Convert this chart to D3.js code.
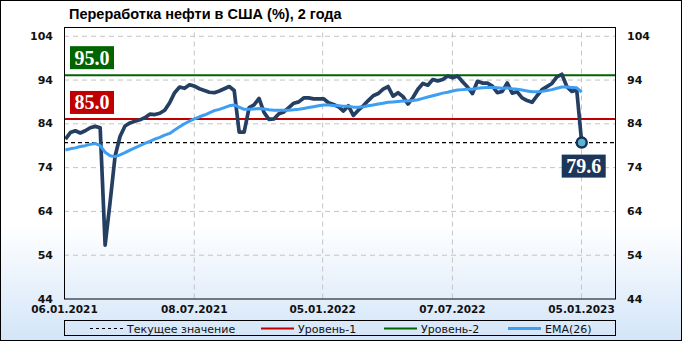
<!DOCTYPE html>
<html>
<head>
<meta charset="utf-8">
<script src="https://cdn.jsdelivr.net/npm/d3@7"></script>
<style>
    body { margin: 0; }
    svg { display: block; }
</style>
</head>
<body>
<div id="chart"></div>
<script>
// Weekly refinery utilization, first week ends 08.01.2021
const startDate = new Date(2021, 0, 8);

const refining = [
    80.4, 81.9, 82.3, 81.8, 82.3, 83.0, 83.3, 83.0, 56.2, 66.0,
    76.5, 81.0, 83.4, 84.1, 84.5, 84.8, 85.3, 86.1, 86.0, 86.3,
    87.0, 88.7, 91.0, 92.3, 92.0, 92.8, 92.5, 91.9, 91.5, 91.1,
    91.0, 91.4, 91.9, 92.4, 91.5, 82.0, 82.0, 87.6, 88.2, 89.7,
    86.5, 84.9, 85.0, 86.2, 86.6, 87.6, 88.6, 88.9, 89.8, 89.8,
    89.6, 89.6, 89.6, 88.7, 88.3, 87.8, 86.8, 88.0, 85.8, 87.0,
    88.0, 89.2, 90.3, 90.8, 91.8, 92.4, 90.2, 91.0, 90.1, 88.4,
    89.9, 91.8, 93.1, 92.7, 94.0, 93.7, 94.0, 94.8, 94.4, 94.8,
    93.5, 92.3, 90.8, 93.6, 93.2, 93.2, 92.5, 91.0, 91.3, 93.2,
    90.9, 91.2, 89.8, 89.2, 88.8, 90.3, 91.7, 92.4, 93.1, 94.6,
    95.2, 92.4, 91.3, 91.6, 79.6
];

const ema26 = [
    77.9, 78.2, 78.4, 78.7, 78.9, 79.2, 79.4, 78.9, 77.4, 76.6,
    76.4, 76.8, 77.3, 77.9, 78.4, 78.9, 79.4, 79.9, 80.4, 80.8,
    81.3, 81.7, 82.5, 83.2, 83.9, 84.5, 85.0, 85.5, 85.9, 86.4,
    86.9, 87.2, 87.6, 88.0, 88.2, 87.7, 87.2, 87.2, 87.3, 87.4,
    87.3, 87.1, 87.0, 87.0, 87.0, 87.0, 87.1, 87.2, 87.4, 87.6,
    87.8, 88.0, 88.2, 88.2, 88.1, 88.0, 87.9, 87.9, 87.7, 87.7,
    87.8, 88.0, 88.2, 88.4, 88.6, 88.8, 88.9, 89.0, 89.1, 89.1,
    89.2, 89.4, 89.7, 90.0, 90.3, 90.6, 90.9, 91.1, 91.4, 91.6,
    91.7, 91.8, 91.8, 92.0, 92.1, 92.2, 92.2, 92.1, 92.0, 92.1,
    91.9, 91.8, 91.6, 91.4, 91.2, 91.2, 91.3, 91.5, 91.7, 92.0,
    92.3, 92.3, 92.2, 92.1, 91.1
];

const yTicks = [44, 54, 64, 74, 84, 94, 104];
const xTickLabels = ["06.01.2021", "08.07.2021", "05.01.2022", "07.07.2022", "05.01.2023"];
const level1 = 85.0;
const level2 = 95.0;
const legendLabels = ["Текущее значение", "Уровень-1", "Уровень-2", "EMA(26)"];

const parseDay = d3.timeParse("%d.%m.%Y");
const dates = refining.map((v, i) => d3.timeWeek.offset(startDate, i));
const current = refining[refining.length - 1];

// Set up dimensions
const W = 682, H = 341;
const margin = {top: 27, right: 67, bottom: 42.5, left: 64};
const width = W - margin.left - margin.right;
const height = H - margin.top - margin.bottom;

const colors = {
    line: "#243f62",
    ema: "#3d9ef2",
    red: "#c00000",
    green: "#006400",
    grid: "#c4c4c4"
};

const svg = d3.select("#chart")
    .append("svg")
    .attr("width", W)
    .attr("height", H);

// Background gradient
const grad = svg.append("defs").append("linearGradient")
    .attr("id", "bg")
    .attr("x1", 0).attr("y1", 0).attr("x2", 0).attr("y2", 1);
grad.append("stop").attr("offset", "0").attr("stop-color", "#ffffff");
grad.append("stop").attr("offset", "0.66").attr("stop-color", "#ffffff");
grad.append("stop").attr("offset", "1").attr("stop-color", "#d3e5f8");

svg.append("rect")
    .attr("x", 0.5).attr("y", 0.5)
    .attr("width", W - 1).attr("height", H - 1)
    .attr("fill", "url(#bg)")
    .attr("stroke", "#000");

// Title
svg.append("text")
    .attr("x", 69)
    .attr("y", 19)
    .attr("font-family", "'Liberation Sans Narrow', 'Liberation Sans', sans-serif")
    .attr("font-weight", "bold")
    .attr("font-size", 14.5)
    .text("Переработка нефти в США (%), 2 года");

const g = svg.append("g")
    .attr("transform", `translate(${margin.left},${margin.top})`);

// Scales
const x = d3.scaleTime()
    .domain([parseDay(xTickLabels[0]), parseDay(xTickLabels[xTickLabels.length - 1])])
    .range([0, 517]);

const y = d3.scaleLinear()
    .domain([44, 106])
    .range([height, 0]);

// Gridlines
g.append("g")
    .attr("class", "grid")
    .call(d3.axisLeft(y).tickValues(yTicks.slice(1)).tickSize(-width).tickFormat(""))
    .call(s => s.select(".domain").remove());

g.append("g")
    .attr("class", "grid")
    .attr("transform", `translate(0,${height})`)
    .call(d3.axisBottom(x).tickValues(xTickLabels.slice(1).map(parseDay)).tickSize(-height).tickFormat(""))
    .call(s => s.select(".domain").remove());

g.selectAll(".grid line")
    .attr("stroke", colors.grid)
    .attr("stroke-dasharray", "5,4");

// Axes labels
const axisFont = s => s
    .attr("font-family", "'DejaVu Sans', sans-serif")
    .attr("font-weight", "bold")
    .attr("font-size", 11)
    .attr("fill", "#111");

g.append("g")
    .call(d3.axisLeft(y).tickValues(yTicks).tickSize(0).tickPadding(11))
    .call(s => s.select(".domain").remove())
    .call(s => s.selectAll("text").call(axisFont));

g.append("g")
    .attr("transform", `translate(${width},0)`)
    .call(d3.axisRight(y).tickValues(yTicks).tickSize(0).tickPadding(12))
    .call(s => s.select(".domain").remove())
    .call(s => s.selectAll("text").call(axisFont));

g.append("g")
    .attr("transform", `translate(0,${height})`)
    .call(d3.axisBottom(x).tickValues(xTickLabels.map(parseDay)).tickSize(0).tickPadding(7)
        .tickFormat(d3.timeFormat("%d.%m.%Y")))
    .call(s => s.select(".domain").remove())
    .call(s => s.selectAll("text").call(axisFont).attr("font-size", 10.5));

// Level lines
g.append("line")
    .attr("x1", 0).attr("x2", width)
    .attr("y1", y(level2)).attr("y2", y(level2))
    .attr("stroke", colors.green)
    .attr("stroke-width", 2);

g.append("line")
    .attr("x1", 0).attr("x2", width)
    .attr("y1", y(level1)).attr("y2", y(level1))
    .attr("stroke", colors.red)
    .attr("stroke-width", 2);

// Current value line
g.append("line")
    .attr("x1", 0).attr("x2", width)
    .attr("y1", y(current)).attr("y2", y(current))
    .attr("stroke", "#000")
    .attr("stroke-width", 1.2)
    .attr("stroke-dasharray", "4,3");

// Main series
const line = d3.line()
    .x((d, i) => x(dates[i]))
    .y(d => y(d));

g.append("path")
    .datum(refining)
    .attr("fill", "none")
    .attr("stroke", colors.line)
    .attr("stroke-width", 3.7)
    .attr("stroke-linejoin", "round")
    .attr("d", line);

// EMA
g.append("path")
    .datum(ema26)
    .attr("fill", "none")
    .attr("stroke", colors.ema)
    .attr("stroke-width", 3)
    .attr("stroke-linejoin", "round")
    .attr("d", line);

// Last point marker
const lastX = x(dates[dates.length - 1]);
g.append("circle")
    .attr("cx", lastX)
    .attr("cy", y(current))
    .attr("r", 5)
    .attr("fill", "#5bb5d2")
    .attr("stroke", "#163256")
    .attr("stroke-width", 2.5);

// Value tags
function tag(cx, top, label, fill, anchorLeft) {
    const t = g.append("text")
        .attr("font-family", "'Liberation Serif', serif")
        .attr("font-weight", "bold")
        .attr("font-size", 20)
        .attr("fill", "#fff")
        .text(label);
    const w = t.node().getComputedTextLength() + 9;
    const h = 23;
    const left = anchorLeft ? cx : cx - w / 2;
    g.insert("rect", () => t.node())
        .attr("x", left).attr("y", top)
        .attr("width", w).attr("height", h)
        .attr("fill", fill);
    t.attr("x", left + w / 2)
        .attr("y", top + h / 2 + 7)
        .attr("text-anchor", "middle");
}

tag(6, y(level2) - 29, level2.toFixed(1), colors.green, true);
tag(6, y(level1) - 28, level1.toFixed(1), colors.red, true);
tag(lastX + 2, y(current) + 12, current.toFixed(1), "#1b365a", false);

// Plot frame
g.append("rect")
    .attr("x", 0.5).attr("y", 0.5)
    .attr("width", width).attr("height", height)
    .attr("fill", "none")
    .attr("stroke", "#000");

// Legend
const legend = svg.append("g")
    .attr("transform", `translate(${margin.left},320.5)`);

legend.append("rect")
    .attr("x", 0.5).attr("y", 0)
    .attr("width", width).attr("height", 15)
    .attr("fill", "none")
    .attr("stroke", "#000");

const legendX = [26, 197, 320, 444];
const legendStyle = [
    {color: "#000", width: 1, dash: "3,3"},
    {color: colors.red, width: 2, dash: null},
    {color: colors.green, width: 2, dash: null},
    {color: colors.ema, width: 3, dash: null}
];

legendLabels.forEach((label, i) => {
    const st = legendStyle[i];
    legend.append("line")
        .attr("x1", legendX[i]).attr("x2", legendX[i] + 33)
        .attr("y1", 8).attr("y2", 8)
        .attr("stroke", st.color)
        .attr("stroke-width", st.width)
        .attr("stroke-dasharray", st.dash);
    legend.append("text")
        .attr("x", legendX[i] + 37)
        .attr("y", 12)
        .attr("font-family", "'DejaVu Sans', sans-serif")
        .attr("font-size", 11)
        .attr("fill", "#111")
        .text(label);
});
</script>
</body>
</html>
